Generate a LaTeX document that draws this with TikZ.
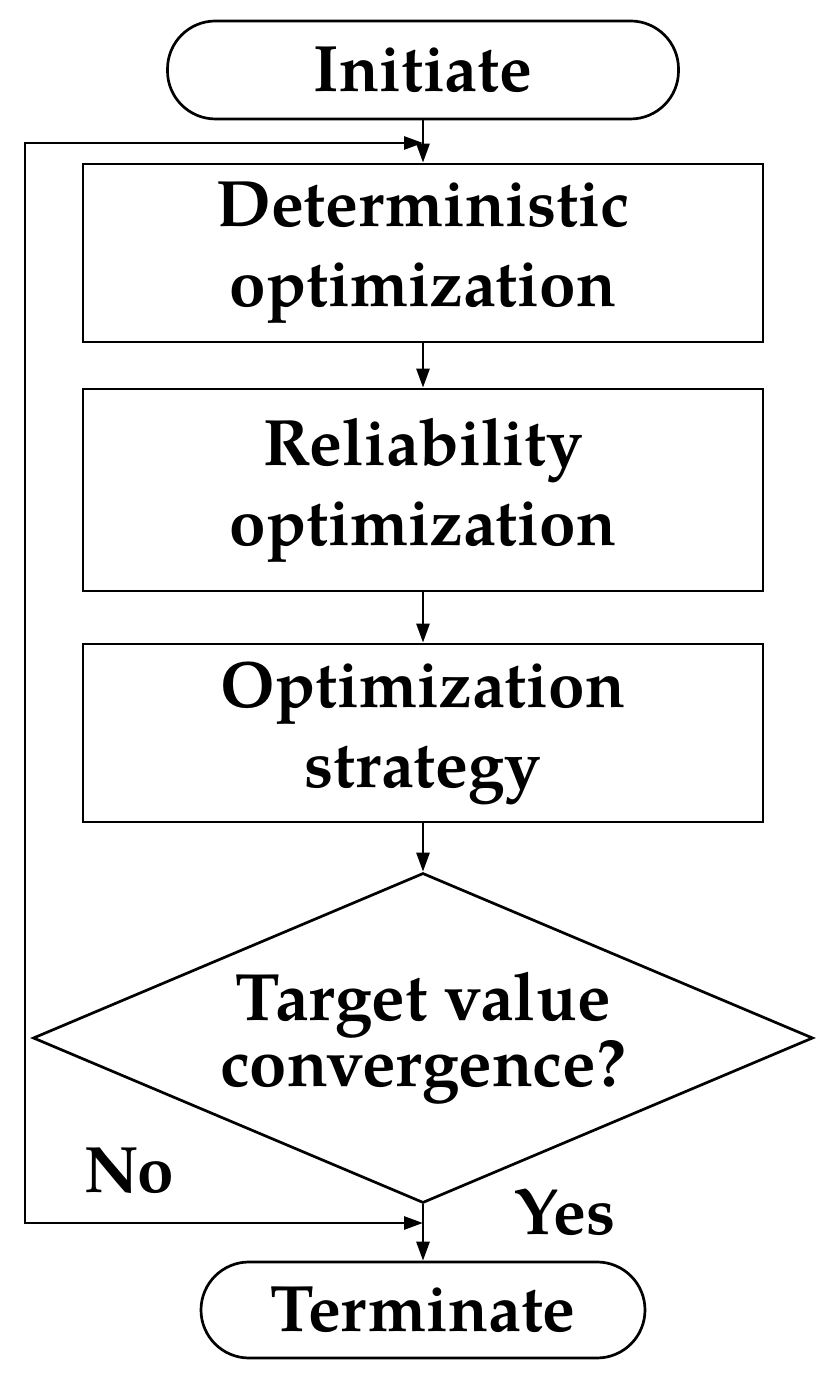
\documentclass[tikz,border=0pt]{standalone}
\usepackage{fontspec}
\setmainfont{texgyrepagella}[Extension=.otf,UprightFont=*-regular,BoldFont=*-bold,ItalicFont=*-italic,BoldItalicFont=*-bolditalic]
\usetikzlibrary{shapes.geometric,arrows.meta}

\tikzset{
  every node/.style={font=\fontsize{32.8}{40}\selectfont\bfseries},
  tip/.tip={Triangle[length=9.5pt,width=6.5pt]}
}

\begin{document}
\begin{tikzpicture}[x=0.5pt,y=0.5pt,line width=1.35pt,
  terminal/.style={draw,rounded corners=24pt,minimum height=49pt,inner sep=0pt},
  process/.style={draw,minimum width=340pt,inner sep=0pt,align=center},
  decision/.style={draw,diamond,aspect=2.36,inner sep=0pt,minimum width=390pt,minimum height=165pt,align=center,
    font=\fontsize{33.5}{26.5}\selectfont\bfseries},
  flow/.style={-tip}]
\useasboundingbox (0,0) rectangle (835,1380);

\node[terminal,minimum width=255.5pt] (start) at (423,1310) {Initiate};
\node[process,minimum height=89pt] (det) at (423,1127) {Deterministic\\optimization};
\node[process,minimum height=101pt] (rel) at (423,890) {Reliability\\optimization};
\node[process,minimum height=89pt] (strat) at (423,647) {Optimization\\strategy};
\node[decision] (conv) at (423,342) {Target value\\convergence?};
\node[terminal,minimum width=222pt,minimum height=48pt] (stop) at (423,70) {Terminate};

\draw[flow] (start) -- (det);
\draw[flow] (det) -- (rel);
\draw[flow] (rel) -- (strat);
\draw[flow] (strat) -- (conv);
\draw[flow] (conv) -- (stop);

% feedback loop
\coordinate (back) at (423,1237);
\coordinate (exit) at (423,157);
\draw[tip-tip] (exit) -- ++(-398,0) |- (back);

\node[anchor=base] (no) at (129,187) {No};
\node[anchor=base] (yes) at (565,145) {Yes};
\end{tikzpicture}
\end{document}
